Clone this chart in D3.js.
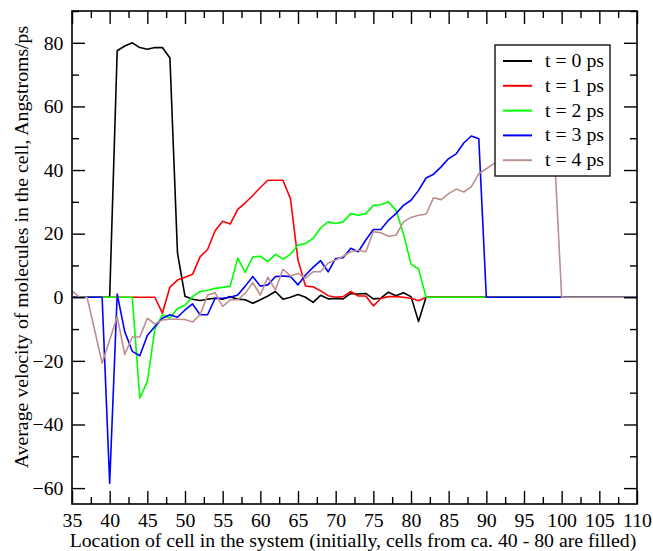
<!DOCTYPE html>
<html>
<head>
<meta charset="utf-8">
<script src="https://cdn.jsdelivr.net/npm/d3@7"></script>
<style>
  body { margin: 0; background: #fff; }
</style>
</head>
<body>
<div id="chart"></div>
<script>
// cell index 35..110
var cells = [35,36,37,38,39,40,41,42,43,44,45,46,47,48,49,50,51,52,53,54,55,56,57,58,59,60,
  61,62,63,64,65,66,67,68,69,70,71,72,73,74,75,76,77,78,79,80,81,82,83,84,85,86,87,88,89,90,
  91,92,93,94,95,96,97,98,99,100,101,102,103,104,105,106,107,108,109,110];

var t0 = [0,0,0,0,0,0,77.5,79,80,78.5,78,78.5,78.5,75.2,14,0.3,-0.6,-1,-0.6,-0.3,-0.6,0.2,-0.6,-0.8,-1.9,-0.8,
  0.4,1.8,-0.6,0,0.9,0,-1.6,0.6,-0.5,-0.4,-0.5,1.2,1.0,1.2,-0.5,-0.3,1.6,0.5,1.4,0.2,-7.6,0,0,0,0,0,0,0,0,0,
  0,0,0,0,0,0,0,0,0,0,0,0,0,0,0,0,0,0,0,0];
var t1 = [0,0,0,0,0,0,0,0,0,0,0,0,-5,3.2,5.4,6.3,7.2,12.7,15,20.9,23.9,23,27.6,29.7,32,34.5,
  36.8,36.8,36.8,31,11.7,3.5,3.3,2,0.5,0,0.2,1.8,0.4,0.4,-2.7,-0.4,0.2,0.2,0,-0.3,-1.1,0,0,0,0,0,0,0,0,0,
  0,0,0,0,0,0,0,0,0,0,0,0,0,0,0,0,0,0,0,0];
var t2 = [0,0,0,0,0,0,0,0,0,-31.7,-26.5,-10,-5.5,-6.5,-3.5,-2.5,0.2,1.8,2.2,2.8,3.1,3.5,12.3,7.8,12.7,12.9,
  11.2,13.5,12,13.5,16.4,16.9,18.5,21.8,23.7,23.2,23.7,26.3,25.8,26.3,28.9,29.1,30,27.4,20,10.4,8.9,0,0,0,0,0,0,0,0,0,
  0,0,0,0,0,0,0,0,0,0,0,0,0,0,0,0,0,0,0,0];
var t3 = [0,0,0,0,0,-58.5,1,-10.8,-17,-18.4,-12,-9.2,-6.6,-5.5,-6.3,-4,-2.1,-5.5,-5.5,-0.3,-0.3,0,0.7,3.5,6.5,3.5,
  3.9,6.5,6.7,6.5,3.9,7,9.4,11.5,8,12.2,12.4,15.4,14.3,18,21.3,21.3,24.2,26.3,28.9,30.5,33.6,37.5,38.7,41,43.6,45.1,48.5,50.7,49.8,0,
  0,0,0,0,0,0,0,0,0,0,0,0,0,0,0,0,0,0,0,0];
var t4 = [2,0,0,-10.3,-20.7,-13.4,-6.1,-18,-12.5,-12.5,-6.6,-8.4,-7.1,-6.9,-6.9,-7,-7.8,-5.5,0.7,1.4,-2.9,-0.8,-0.8,1.3,4.6,0.7,
  6.3,2.3,8.8,6.7,7.5,6,8,8,10.8,11.7,12.9,14.3,14.8,14.3,20.6,20.3,19.2,19.5,23.7,25.1,25.8,26.1,31.3,30.7,32.6,34,33.1,34.7,38.9,40.4,
  42,43,43.5,44.5,45,45.5,46,46.5,47,0,0,0,0,0,0,0,0,0,0,0];

var seriesNames = ["t = 0 ps", "t = 1 ps", "t = 2 ps", "t = 3 ps", "t = 4 ps"];
var seriesColors = ["#000000", "#ff0000", "#00ff00", "#0000ff", "#bc8f8f"];
var seriesValues = [t0, t1, t2, t3, t4];

var xTicks = [35,40,45,50,55,60,65,70,75,80,85,90,95,100,105,110];
var xMinor = [37.5,42.5,47.5,52.5,57.5,62.5,67.5,72.5,77.5,82.5,87.5,92.5,97.5,102.5,107.5];
var yTicks = [-60,-40,-20,0,20,40,60,80];
var yMinor = [-50,-30,-10,10,30,50,70,90];

var FONT = "'Liberation Serif', 'Times New Roman', Times, serif";
var FS = "19.8px";

var W = 653, H = 551;
var margin = {top: 11, right: 16, bottom: 47, left: 72};
var width = W - margin.left - margin.right;
var height = H - margin.top - margin.bottom;

var svg = d3.select("#chart").append("svg")
    .attr("width", W)
    .attr("height", H);
var g = svg.append("g")
    .attr("transform", "translate(" + margin.left + "," + margin.top + ")");

var x = d3.scaleLinear().domain([35, 110]).range([0, width]);
var y = d3.scaleLinear().domain([-65, 90]).range([height, 0]);

// lines
var line = d3.line()
    .x(function (d) { return x(d.c); })
    .y(function (d) { return y(d.v); });

seriesValues.forEach(function (vals, i) {
    var pts = cells.map(function (c, j) { return {c: c, v: vals[j]}; });
    g.append("path")
        .datum(pts)
        .attr("fill", "none")
        .attr("stroke", seriesColors[i])
        .attr("stroke-width", 1.6)
        .attr("stroke-linejoin", "round")
        .attr("d", line);
});

// axes, ticks inward
function styleAxis(sel) {
    sel.select(".domain").remove();
    sel.selectAll("line").attr("stroke", "#000").attr("stroke-width", 1.4);
    sel.selectAll("text")
        .style("font-family", FONT)
        .style("font-size", FS)
        .attr("fill", "#000");
}

g.append("g").attr("transform", "translate(0," + height + ")")
    .call(d3.axisBottom(x).tickValues(xTicks).tickSize(-13).tickPadding(8.5).tickFormat(d3.format("d")))
    .call(styleAxis);
g.append("g").attr("transform", "translate(0," + height + ")")
    .call(d3.axisBottom(x).tickValues(xMinor).tickSize(-7).tickFormat(""))
    .call(styleAxis);
g.append("g")
    .call(d3.axisTop(x).tickValues(xTicks).tickSize(-13).tickFormat(""))
    .call(styleAxis);
g.append("g")
    .call(d3.axisTop(x).tickValues(xMinor).tickSize(-7).tickFormat(""))
    .call(styleAxis);

g.append("g")
    .call(d3.axisLeft(y).tickValues(yTicks).tickSize(-13).tickPadding(8.5).tickFormat(d3.format("d")))
    .call(styleAxis);
g.append("g")
    .call(d3.axisLeft(y).tickValues(yMinor).tickSize(-7).tickFormat(""))
    .call(styleAxis);
g.append("g").attr("transform", "translate(" + width + ",0)")
    .call(d3.axisRight(y).tickValues(yTicks).tickSize(-13).tickFormat(""))
    .call(styleAxis);
g.append("g").attr("transform", "translate(" + width + ",0)")
    .call(d3.axisRight(y).tickValues(yMinor).tickSize(-7).tickFormat(""))
    .call(styleAxis);

// frame
g.append("rect")
    .attr("width", width)
    .attr("height", height)
    .attr("fill", "none")
    .attr("stroke", "#000")
    .attr("stroke-width", 1.6);

// axis titles
svg.append("text")
    .attr("x", 353)
    .attr("y", 546.5)
    .attr("text-anchor", "middle")
    .style("font-family", FONT)
    .style("font-size", FS)
    .text("Location of cell in the system (initially, cells from ca. 40 - 80 are filled)");

svg.append("text")
    .attr("transform", "translate(28,247) rotate(-90)")
    .attr("text-anchor", "middle")
    .style("font-family", FONT)
    .style("font-size", FS)
    .text("Average velocity of molecules in the cell, Angstroms/ps");

// legend
var lg = svg.append("g").attr("transform", "translate(495,45)");
lg.append("rect")
    .attr("width", 115)
    .attr("height", 131)
    .attr("fill", "#fff")
    .attr("stroke", "#000")
    .attr("stroke-width", 1.3);
seriesNames.forEach(function (name, i) {
    var ly = 16 + i * 24.8;
    lg.append("line")
        .attr("x1", 8).attr("x2", 37)
        .attr("y1", ly).attr("y2", ly)
        .attr("stroke", seriesColors[i])
        .attr("stroke-width", 2);
    lg.append("text")
        .attr("x", 50)
        .attr("y", ly + 6)
        .style("font-family", FONT)
        .style("font-size", FS)
        .text(name);
});
</script>
</body>
</html>
